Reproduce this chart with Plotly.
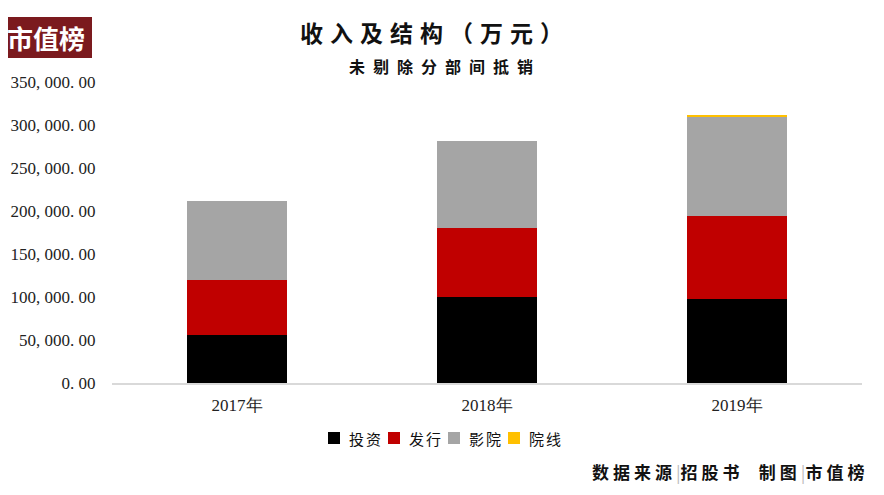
import plotly.graph_objects as go

# data
years = ['2017年', '2018年', '2019年']
touzi = [55500, 99500, 97300]      # 投资
faxing = [64700, 80300, 96500]     # 发行
yingyuan = [91400, 101100, 115500] # 影院
yuanxian = [0, 0, 2800]            # 院线

tick_vals = [0, 50000, 100000, 150000, 200000, 250000, 300000, 350000]
tick_text = ['0. 00', '50, 000. 00', '100, 000. 00', '150, 000. 00',
             '200, 000. 00', '250, 000. 00', '300, 000. 00', '350, 000. 00']

series = [
    ('投资', touzi, '#000000'),
    ('发行', faxing, '#C00000'),
    ('影院', yingyuan, '#A5A5A5'),
    ('院线', yuanxian, '#FFC000'),
]

serif = 'Liberation Serif, DejaVu Serif, serif'
cjk = 'Noto Sans CJK SC, sans-serif'

# the page body has an 8px margin, so the figure sits at (8, 8)
OFF = 8
W, H = 884 - OFF, 495 - OFF
L, T = 112 - OFF, 82 - OFF
R, B = W - (862 - OFF), H - (383 - OFF)
pw, ph = W - L - R, H - T - B


def px(x):
    # screen pixel -> paper x
    return (x - OFF - L) / pw


def py(y):
    # screen pixel -> paper y
    return (H - B - (y - OFF)) / ph


fig = go.Figure()
for name, vals, color in series:
    fig.add_trace(go.Bar(x=years, y=vals, name=name, marker_color=color,
                         marker_line_width=0, showlegend=False))

fig.update_layout(
    barmode='stack',
    bargap=0.6,
    width=W, height=H,
    margin=dict(l=L, r=R, t=T, b=B, autoexpand=False),
    plot_bgcolor='white', paper_bgcolor='white',
    font=dict(family=cjk),
)
fig.update_yaxes(range=[0, 350000], tickvals=tick_vals, ticktext=tick_text,
                 showgrid=False, zeroline=False, showline=False,
                 ticks='outside', ticklen=12, tickcolor='white',
                 tickfont=dict(family=serif, size=17, color='#222'))
fig.update_xaxes(showline=True, linecolor='#D9D9D9', linewidth=1.5,
                 ticks='outside', ticklen=6, tickcolor='white',
                 tickfont=dict(family=serif, size=17, color='#222'))

# hand-placed legend (tighter than plotly's own)
for i, (name, vals, color) in enumerate(series):
    x0 = 328 + 60 * i
    fig.add_shape(type='rect', xref='paper', yref='paper',
                  x0=px(x0), x1=px(x0 + 12), y0=py(444), y1=py(432),
                  fillcolor=color, line_width=0)
    fig.add_annotation(xref='paper', yref='paper', x=px(x0 + 19), y=py(438),
                       text=f"<span style='letter-spacing:2px'>{name}</span>",
                       showarrow=False, xanchor='left', yanchor='middle',
                       font=dict(family=cjk, size=15, color='#111'))

# logo box top-left
fig.add_shape(type='rect', xref='paper', yref='paper',
              x0=px(0), x1=px(92), y0=py(58), y1=py(17),
              fillcolor='#7B1A1E', line_width=0, layer='above')
fig.add_annotation(xref='paper', yref='paper', x=px(46), y=py(38), text='<b>市值榜</b>',
                   showarrow=False, font=dict(family=cjk, size=26, color='white'),
                   xanchor='center', yanchor='middle')

# titles
fig.add_annotation(xref='paper', yref='paper', x=px(435), y=py(32),
                   text="<b><span style='letter-spacing:7px'>收入及结构（万元）</span></b>",
                   showarrow=False, font=dict(family=cjk, size=23, color='#111'),
                   xanchor='center', yanchor='middle')
fig.add_annotation(xref='paper', yref='paper', x=px(445), y=py(66),
                   text="<b><span style='letter-spacing:8px'>未剔除分部间抵销</span></b>",
                   showarrow=False, font=dict(family=cjk, size=16, color='#111'),
                   xanchor='center', yanchor='middle')

# source footer
fig.add_annotation(xref='paper', yref='paper', x=px(870), y=py(471),
                   text="<b><span style='letter-spacing:4px'>数据来源</span></b>"
                        "<span style='color:#BBBBBB'>|</span>"
                        "<b><span style='letter-spacing:4px'>招股书</span></b>"
                        "    <b><span style='letter-spacing:4px'>制图</span></b>"
                        "<span style='color:#BBBBBB'>|</span>"
                        "<b><span style='letter-spacing:4px'>市值榜</span></b>",
                   showarrow=False, font=dict(family=cjk, size=17, color='#111'),
                   xanchor='right', yanchor='middle')

fig.write_html("out.html")
